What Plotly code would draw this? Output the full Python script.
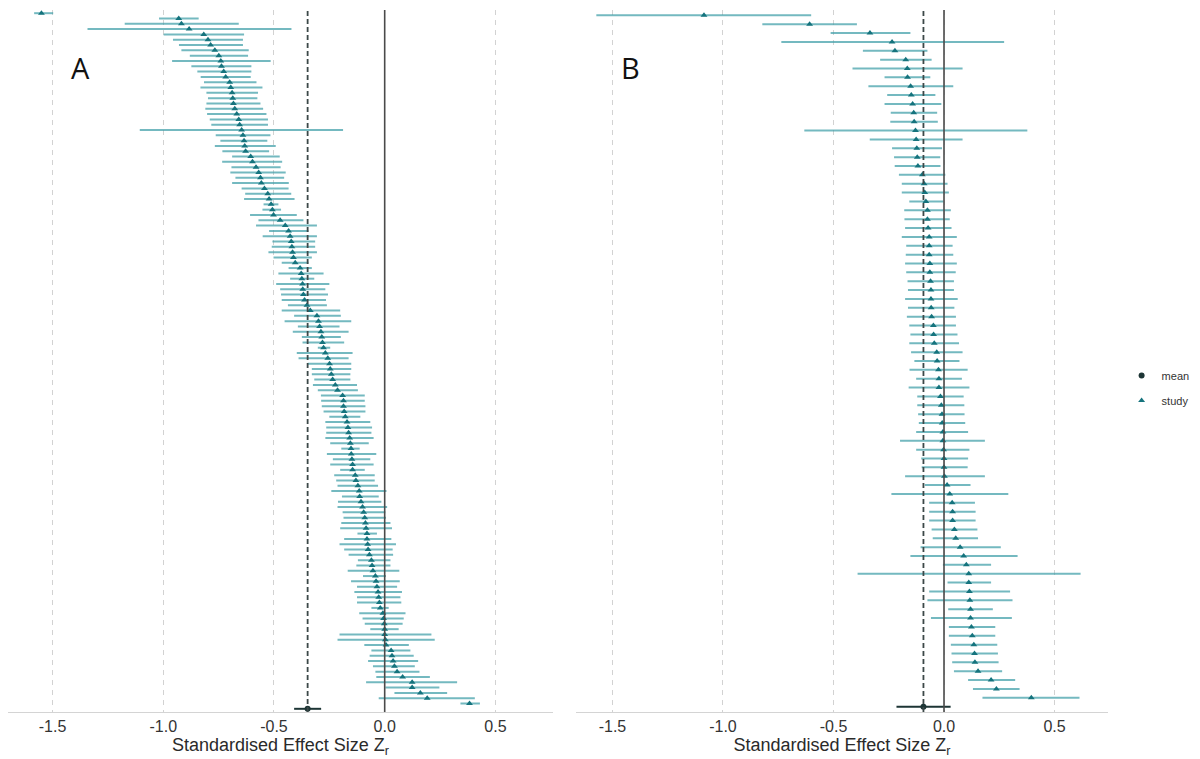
import numpy as np
import plotly.graph_objects as go

# panel A: study estimates with 95% CI (sorted), plus the overall mean
a_est = [-1.550, -0.930, -0.918, -0.883, -0.817, -0.798, -0.786, -0.767, -0.749, -0.740,
         -0.737, -0.727, -0.718, -0.700, -0.695, -0.689, -0.686, -0.683, -0.677, -0.668,
         -0.659, -0.655, -0.646, -0.640, -0.635, -0.632, -0.628, -0.605, -0.597, -0.581,
         -0.569, -0.561, -0.557, -0.543, -0.528, -0.522, -0.513, -0.507, -0.502, -0.472,
         -0.449, -0.434, -0.427, -0.422, -0.419, -0.416, -0.412, -0.404, -0.382, -0.377,
         -0.374, -0.371, -0.370, -0.367, -0.362, -0.351, -0.336, -0.306, -0.299, -0.294,
         -0.288, -0.284, -0.281, -0.276, -0.268, -0.257, -0.249, -0.246, -0.241, -0.235,
         -0.223, -0.213, -0.190, -0.186, -0.186, -0.183, -0.178, -0.170, -0.166, -0.163,
         -0.158, -0.155, -0.152, -0.151, -0.148, -0.145, -0.145, -0.133, -0.130, -0.121,
         -0.115, -0.113, -0.107, -0.100, -0.095, -0.090, -0.087, -0.084, -0.080, -0.080,
         -0.077, -0.075, -0.069, -0.060, -0.057, -0.053, -0.042, -0.039, -0.035, -0.030,
         -0.027, -0.024, -0.020, -0.008, -0.005, -0.002, 0.000, 0.000, 0.003, 0.006,
         0.029, 0.033, 0.038, 0.044, 0.056, 0.081, 0.124, 0.124, 0.161, 0.192,
         0.383]
a_lo = [-1.583, -1.019, -1.174, -1.342, -0.998, -0.956, -0.929, -0.918, -0.880, -0.960,
        -0.873, -0.846, -0.831, -0.816, -0.832, -0.805, -0.798, -0.805, -0.810, -0.802,
        -0.790, -0.783, -1.106, -0.763, -0.742, -0.767, -0.733, -0.689, -0.734, -0.692,
        -0.697, -0.674, -0.689, -0.646, -0.630, -0.635, -0.547, -0.552, -0.608, -0.570,
        -0.581, -0.522, -0.551, -0.507, -0.510, -0.525, -0.502, -0.465, -0.434, -0.480,
        -0.427, -0.490, -0.472, -0.468, -0.465, -0.437, -0.465, -0.409, -0.452, -0.392,
        -0.415, -0.374, -0.371, -0.302, -0.397, -0.389, -0.347, -0.329, -0.329, -0.318,
        -0.324, -0.302, -0.288, -0.287, -0.284, -0.276, -0.250, -0.268, -0.264, -0.264,
        -0.268, -0.246, -0.196, -0.261, -0.234, -0.246, -0.201, -0.228, -0.219, -0.213,
        -0.241, -0.193, -0.211, -0.213, -0.190, -0.186, -0.196, -0.201, -0.123, -0.183,
        -0.204, -0.183, -0.163, -0.121, -0.128, -0.167, -0.098, -0.152, -0.125, -0.137,
        -0.125, -0.125, -0.060, -0.115, -0.100, -0.090, -0.065, -0.204, -0.213, -0.092,
        -0.060, -0.068, -0.075, -0.053, -0.042, -0.038, -0.084, 0.003, 0.044, -0.027,
        0.342]
a_hi = [-1.497, -0.840, -0.659, -0.421, -0.635, -0.640, -0.640, -0.614, -0.617, -0.515,
        -0.602, -0.602, -0.605, -0.579, -0.552, -0.572, -0.575, -0.561, -0.549, -0.534,
        -0.527, -0.527, -0.188, -0.516, -0.530, -0.492, -0.522, -0.474, -0.463, -0.470,
        -0.447, -0.454, -0.433, -0.434, -0.422, -0.407, -0.480, -0.468, -0.397, -0.367,
        -0.306, -0.344, -0.306, -0.314, -0.314, -0.306, -0.329, -0.344, -0.329, -0.276,
        -0.318, -0.250, -0.268, -0.256, -0.265, -0.261, -0.201, -0.198, -0.151, -0.204,
        -0.163, -0.198, -0.183, -0.246, -0.145, -0.163, -0.151, -0.151, -0.155, -0.155,
        -0.125, -0.121, -0.090, -0.090, -0.087, -0.087, -0.110, -0.065, -0.057, -0.060,
        -0.050, -0.072, -0.113, -0.038, -0.065, -0.050, -0.090, -0.045, -0.045, -0.030,
        0.008, -0.027, -0.015, 0.011, 0.003, 0.006, 0.026, 0.033, -0.035, 0.030,
        0.051, 0.036, 0.038, 0.026, 0.026, 0.066, 0.006, 0.068, 0.056, 0.078,
        0.071, 0.075, 0.018, 0.094, 0.086, 0.081, 0.063, 0.211, 0.226, 0.109,
        0.116, 0.131, 0.151, 0.136, 0.157, 0.204, 0.327, 0.247, 0.282, 0.407,
        0.430]
a_mean, a_mean_lo, a_mean_hi = -0.348, -0.409, -0.287

# panel B
b_est = [-1.086, -0.608, -0.335, -0.235, -0.222, -0.173, -0.166, -0.165, -0.151, -0.148,
         -0.142, -0.137, -0.135, -0.129, -0.126, -0.123, -0.121, -0.118, -0.098, -0.090,
         -0.087, -0.082, -0.075, -0.075, -0.072, -0.067, -0.067, -0.067, -0.064, -0.064,
         -0.061, -0.059, -0.059, -0.058, -0.056, -0.048, -0.047, -0.044, -0.033, -0.031,
         -0.025, -0.023, -0.023, -0.016, -0.012, -0.009, -0.008, -0.005, -0.005, -0.002,
         0.000, 0.000, 0.002, 0.014, 0.026, 0.037, 0.039, 0.039, 0.047, 0.053,
         0.073, 0.089, 0.101, 0.112, 0.112, 0.115, 0.117, 0.120, 0.120, 0.124,
         0.128, 0.135, 0.138, 0.140, 0.154, 0.213, 0.237, 0.395]
b_lo = [-1.573, -0.822, -0.513, -0.736, -0.367, -0.289, -0.414, -0.269, -0.342, -0.257,
        -0.269, -0.241, -0.243, -0.632, -0.336, -0.235, -0.226, -0.223, -0.204, -0.191,
        -0.191, -0.157, -0.180, -0.179, -0.176, -0.191, -0.171, -0.173, -0.176, -0.171,
        -0.165, -0.163, -0.176, -0.163, -0.168, -0.157, -0.152, -0.157, -0.149, -0.134,
        -0.156, -0.126, -0.160, -0.121, -0.121, -0.117, -0.114, -0.126, -0.199, -0.126,
        -0.103, -0.101, -0.176, -0.087, -0.238, -0.067, -0.067, -0.067, -0.056, -0.051,
        -0.106, -0.152, -0.005, -0.391, 0.016, -0.067, -0.075, 0.019, -0.059, 0.022,
        0.022, 0.031, 0.034, 0.037, 0.045, 0.109, 0.131, 0.174]
b_hi = [-0.601, -0.394, -0.152, 0.272, -0.075, -0.056, 0.084, -0.062, 0.042, -0.039,
        -0.012, -0.031, -0.028, 0.377, 0.084, -0.009, -0.017, -0.016, 0.006, 0.016,
        0.022, -0.002, 0.031, 0.026, 0.034, 0.058, 0.039, 0.042, 0.058, 0.053,
        0.045, 0.045, 0.062, 0.047, 0.054, 0.054, 0.061, 0.068, 0.084, 0.070,
        0.107, 0.081, 0.115, 0.089, 0.092, 0.093, 0.096, 0.109, 0.185, 0.115,
        0.109, 0.107, 0.185, 0.120, 0.291, 0.140, 0.143, 0.143, 0.151, 0.154,
        0.257, 0.333, 0.213, 0.618, 0.213, 0.299, 0.310, 0.221, 0.307, 0.232,
        0.232, 0.241, 0.244, 0.247, 0.263, 0.322, 0.342, 0.613]
b_mean, b_mean_lo, b_mean_hi = -0.093, -0.215, 0.030

tick_vals = [-1.5, -1.0, -0.5, 0.0, 0.5]
tick_text = ["-1.5", "-1.0", "-0.5", "0.0", "0.5"]

STUDY_BAR = "rgba(62,158,168,0.72)"
STUDY_PT = "#15737d"
MEAN_COL = "#1d3535"
FONT = "Liberation Sans"

fig = go.Figure()


def add_panel(est, lo, hi, m, m_lo, m_hi, xa, ya, show):
    est = np.array(est)
    rows = np.arange(len(est))
    fig.add_trace(go.Scatter(
        x=[m], y=[len(est)], mode="markers", name="mean", legendgroup="mean",
        showlegend=show, xaxis=xa, yaxis=ya,
        marker=dict(symbol="circle", size=6, color=MEAN_COL),
        error_x=dict(type="data", symmetric=False, array=[m_hi - m], arrayminus=[m - m_lo],
                     color=MEAN_COL, thickness=2, width=0)))
    fig.add_trace(go.Scatter(
        x=est, y=rows, mode="markers", name="study", legendgroup="study",
        showlegend=show, xaxis=xa, yaxis=ya,
        marker=dict(symbol="triangle-up", size=6, color=STUDY_PT),
        error_x=dict(type="data", symmetric=False, array=np.array(hi) - est,
                     arrayminus=est - np.array(lo), color=STUDY_BAR, thickness=2, width=0)))
    return len(est)


na = add_panel(a_est, a_lo, a_hi, a_mean, a_mean_lo, a_mean_hi, "x", "y", True)
nb = add_panel(b_est, b_lo, b_hi, b_mean, b_mean_lo, b_mean_hi, "x2", "y2", False)

xcommon = dict(tickvals=tick_vals, ticktext=tick_text, showgrid=True, gridcolor="#d2d2d2",
               griddash="5px,5px", gridwidth=1, zeroline=False, showline=True,
               linecolor="#d4d4d4", linewidth=1, ticks="",
               tickfont=dict(family=FONT, size=16, color="#333333"),
               title=dict(text="Standardised Effect Size Z<sub>r</sub>", standoff=0,
                          font=dict(family=FONT, size=18, color="#2a2a2a")))
ycommon = dict(showticklabels=False, showgrid=False, zeroline=False, showline=False, ticks="")

fig.update_layout(
    width=1200, height=759,
    margin=dict(l=0, r=0, t=2, b=55),
    plot_bgcolor="white", paper_bgcolor="white",
    xaxis=dict(domain=[0, 545 / 1200], range=[-1.701, 0.760], anchor="y", **xcommon),
    xaxis2=dict(domain=[568 / 1200, 1100 / 1200], range=[-1.665, 0.742], anchor="y2", **xcommon),
    yaxis=dict(range=[na + 0.6, -0.6], anchor="x", **ycommon),
    yaxis2=dict(range=[nb + 0.6, -0.6], anchor="x2", **ycommon),
    legend=dict(x=0.928, y=0.50, xanchor="left", yanchor="top",
                font=dict(family=FONT, size=11, color="#333"), tracegroupgap=6),
    showlegend=True,
)

# zero line and dashed overall-mean line in each panel
for xa, ya, m in [("x", "y", a_mean), ("x2", "y2", b_mean)]:
    fig.add_shape(type="line", xref=xa, yref=ya + " domain", x0=0, x1=0, y0=0, y1=1,
                  line=dict(color="#4a4a4a", width=1.6), layer="above")
    fig.add_shape(type="line", xref=xa, yref=ya + " domain", x0=m, x1=m, y0=0, y1=1,
                  line=dict(color="#3c4848", width=1.8, dash="5px,3px"), layer="above")

for label, px in [("A", 72), ("B", 622)]:
    fig.add_annotation(text=label, x=px / 1200, y=(704 - 59) / 702, xref="paper", yref="paper",
                       xanchor="center", yanchor="middle", showarrow=False,
                       font=dict(family="Open Sans", size=29, color="#111"))

fig.write_html("out.html")
